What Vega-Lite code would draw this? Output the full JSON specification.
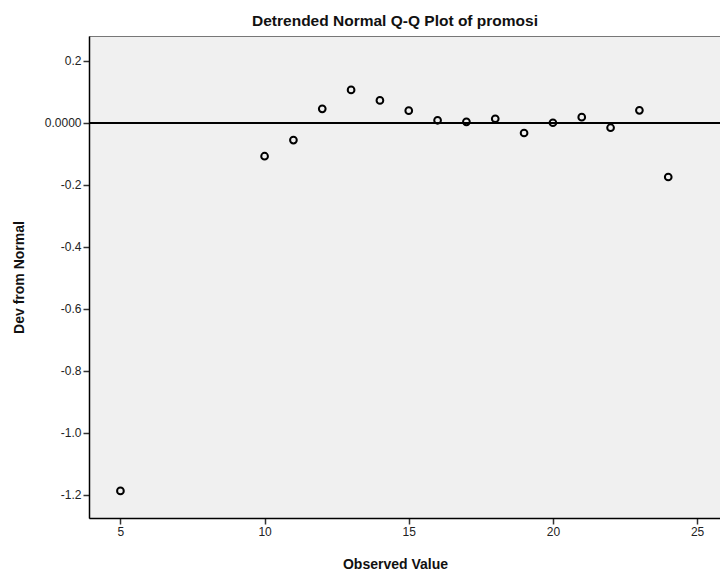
{
  "$schema": "https://vega.github.io/schema/vega-lite/v6.json",
  "autosize": "none",
  "padding": {"left": 89, "top": 36, "right": 0, "bottom": 58},
  "width": 632,
  "height": 482,
  "background": "white",
  "config": {
    "font": "Liberation Sans",
    "view": {"fill": "#f0f0f0", "stroke": "#777777", "strokeWidth": 1}
  },
  "title": {
    "text": "Detrended Normal Q-Q Plot of promosi",
    "font": "Liberation Sans",
    "fontSize": 15.5,
    "fontWeight": "bold",
    "color": "#111111",
    "anchor": "middle",
    "dx": -10,
    "offset": 7
  },
  "data": {
    "values": [
      {"observed": 5, "dev": -1.188},
      {"observed": 10, "dev": -0.108},
      {"observed": 11, "dev": -0.056},
      {"observed": 12, "dev": 0.045},
      {"observed": 13, "dev": 0.106},
      {"observed": 14, "dev": 0.072},
      {"observed": 15, "dev": 0.039},
      {"observed": 16, "dev": 0.008},
      {"observed": 17, "dev": 0.003},
      {"observed": 18, "dev": 0.013},
      {"observed": 19, "dev": -0.033},
      {"observed": 20, "dev": 0.0},
      {"observed": 21, "dev": 0.018},
      {"observed": 22, "dev": -0.016},
      {"observed": 23, "dev": 0.040},
      {"observed": 24, "dev": -0.175}
    ]
  },
  "layer": [
    {
      "mark": {"type": "rule", "color": "#000000", "strokeWidth": 1.5},
      "encoding": {"y": {"datum": 0, "type": "quantitative"}}
    },
    {
      "mark": {"type": "point", "shape": "circle", "filled": false, "stroke": "#000000", "strokeWidth": 2, "size": 45, "opacity": 1},
      "encoding": {
        "x": {
          "field": "observed",
          "type": "quantitative",
          "scale": {"domain": [3.91, 25.83], "nice": false, "zero": false},
          "axis": {
            "title": "Observed Value",
            "titleFont": "Liberation Sans",
            "titleFontSize": 14,
            "titleFontWeight": "bold",
            "titleColor": "#111111",
            "titleX": 306,
            "titlePadding": 20,
            "values": [5, 10, 15, 20, 25],
            "grid": false,
            "domainColor": "#000000",
            "domainWidth": 1.5,
            "tickColor": "#333333",
            "tickSize": 6,
            "tickWidth": 1.5,
            "labelFont": "Liberation Sans",
            "labelFontSize": 12,
            "labelColor": "#222222",
            "labelPadding": 2
          }
        },
        "y": {
          "field": "dev",
          "type": "quantitative",
          "scale": {"domain": [-1.2755, 0.28], "nice": false, "zero": false},
          "axis": {
            "title": "Dev from Normal",
            "titleFont": "Liberation Sans",
            "titleFontSize": 14,
            "titleFontWeight": "bold",
            "titleColor": "#111111",
            "titleX": -63,
            "titleY": 241,
            "values": [0.2, 0, -0.2, -0.4, -0.6, -0.8, -1.0, -1.2],
            "labelExpr": "datum.value == 0 ? '0.0000' : replace(format(datum.value, '.1f'), '\u2212', '-')",
            "grid": false,
            "domainColor": "#000000",
            "domainWidth": 1.5,
            "tickColor": "#333333",
            "tickSize": 6,
            "tickWidth": 1.5,
            "labelFont": "Liberation Sans",
            "labelFontSize": 12,
            "labelColor": "#222222",
            "labelPadding": 2
          }
        }
      }
    }
  ]
}
